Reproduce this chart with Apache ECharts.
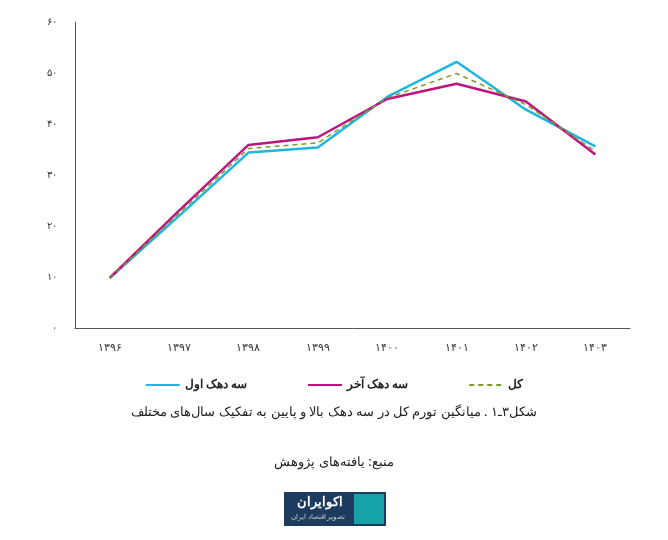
<!DOCTYPE html>
<html><head><meta charset="utf-8">
<script src="https://cdn.jsdelivr.net/npm/echarts@6/dist/echarts.min.js"></script>
<style>html,body{margin:0;padding:0;background:#fff}#c{width:668px;height:540px}</style>
</head><body><div id="c"></div>
<script>
const categories = ['۱۳۹۶','۱۳۹۷','۱۳۹۸','۱۳۹۹','۱۴۰۰','۱۴۰۱','۱۴۰۲','۱۴۰۳'];
const yTickLabels = ['۰','۱۰','۲۰','۳۰','۴۰','۵۰','۶۰'];
const bottom3 = [9.8, 22.0, 34.4, 35.4, 45.3, 52.2, 42.8, 35.6];
const top3 = [9.8, 23.0, 35.9, 37.4, 44.9, 47.9, 44.4, 34.0];
const total = [9.8, 22.5, 35.2, 36.3, 45.1, 49.9, 43.8, 34.7];
const names = ['سه دهک اول','سه دهک آخر','کل'];
const font = 'Noto Sans';
const chart = echarts.init(document.getElementById('c'));
chart.setOption({
  animation:false,
  textStyle:{fontFamily:font},
  grid:{left:75,right:38,top:22,bottom:212},
  legend:{top:374,left:'center',itemGap:60,itemWidth:34,itemHeight:10,
    itemStyle:{opacity:0},
    textStyle:{fontSize:12,fontWeight:'bold',color:'#222',fontFamily:font},
    data:names},
  xAxis:{type:'category',data:categories,boundaryGap:true,
    axisLine:{lineStyle:{color:'#555'}},axisTick:{show:false},
    axisLabel:{color:'#333',fontSize:11,margin:14}},
  yAxis:{type:'value',min:0,max:60,interval:10,
    axisLine:{show:true,lineStyle:{color:'#555'}},axisTick:{show:false},splitLine:{show:false},
    axisLabel:{color:'#333',fontSize:10,margin:18,formatter:v=>yTickLabels[v/10]}},
  series:[
    {name:names[0],type:'line',data:bottom3,symbol:'none',lineStyle:{color:'#1fb5e0',width:2.5},itemStyle:{color:'#1fb5e0'}},
    {name:names[1],type:'line',data:top3,symbol:'none',lineStyle:{color:'#c0137f',width:2.5},itemStyle:{color:'#c0137f'}},
    {name:names[2],type:'line',data:total,symbol:'none',lineStyle:{color:'#7a9a2a',width:1.5,type:[5,4]},itemStyle:{color:'#7a9a2a'}}
  ],
  graphic:[
    {type:'text',left:'center',top:406,style:{text:'شکل۳ـ۱ . میانگین تورم کل در سه دهک بالا و پایین به تفکیک سال‌های مختلف',font:'13px "Noto Sans"',fill:'#222'}},
    {type:'text',left:'center',top:456,style:{text:'منبع: یافته‌های پژوهش',font:'13px "Noto Sans"',fill:'#222'}},
    {type:'rect',shape:{x:284,y:492,width:102,height:34},style:{fill:'#1d3a5f'}},
    {type:'rect',shape:{x:354,y:494,width:30,height:30},style:{fill:'#16a3a8'}},
    {type:'text',x:320,y:496,style:{text:'اکوایران',font:'bold 13px "Noto Sans"',fill:'#fff',align:'center'}},
    {type:'text',x:318,y:513,style:{text:'تصویر اقتصاد ایران',font:'7px "Noto Sans"',fill:'#ccc',align:'center'}}
  ]
});
</script></body></html>
